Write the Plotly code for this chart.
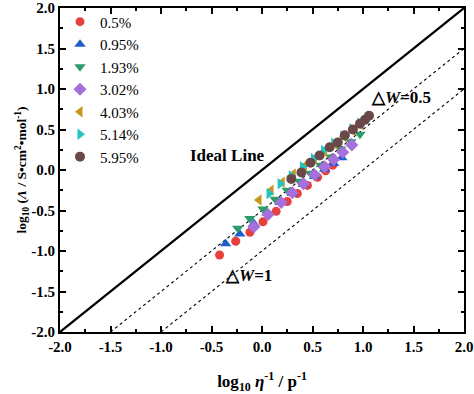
import plotly.graph_objects as go

# ---- data ----
series_names = ["0.5%", "0.95%", "1.93%", "3.02%", "4.03%", "5.14%", "5.95%"]

x_05 = [-0.42, -0.26, -0.12, 0.01, 0.14, 0.25, 0.35, 0.45, 0.55, 0.63, 0.70]
y_05 = [-1.05, -0.88, -0.77, -0.64, -0.51, -0.39, -0.29, -0.19, -0.09, -0.01, 0.06]

x_095 = [-0.36, -0.22, -0.08, 0.05, 0.18, 0.30, 0.41, 0.52, 0.62, 0.71, 0.79]
y_095 = [-0.91, -0.79, -0.66, -0.53, -0.40, -0.29, -0.18, -0.08, 0.01, 0.08, 0.15]

x_193 = [-0.24, -0.12, 0.01, 0.13, 0.25, 0.37, 0.48, 0.58, 0.68, 0.78, 0.88, 0.97]
y_193 = [-0.72, -0.60, -0.48, -0.36, -0.25, -0.14, -0.04, 0.06, 0.16, 0.26, 0.35, 0.44]

x_302 = [-0.08, 0.06, 0.19, 0.30, 0.41, 0.52, 0.62, 0.71, 0.80, 0.89]
y_302 = [-0.70, -0.55, -0.40, -0.28, -0.17, -0.06, 0.04, 0.13, 0.22, 0.31]

x_403 = [-0.03, 0.09, 0.20, 0.31, 0.42, 0.52, 0.62, 0.72, 0.81, 0.90, 0.98]
y_403 = [-0.37, -0.25, -0.15, -0.05, 0.05, 0.14, 0.23, 0.32, 0.41, 0.49, 0.56]

x_514 = [0.07, 0.18, 0.29, 0.40, 0.51, 0.61, 0.71, 0.80, 0.89, 0.97, 1.04]
y_514 = [-0.29, -0.17, -0.07, 0.04, 0.14, 0.24, 0.33, 0.42, 0.51, 0.58, 0.64]

x_595 = [0.29, 0.39, 0.48, 0.57, 0.67, 0.75, 0.82, 0.90, 0.97, 1.02, 1.06]
y_595 = [-0.11, -0.03, 0.09, 0.18, 0.28, 0.34, 0.43, 0.50, 0.57, 0.62, 0.67]

# reference lines y = x - offset
line_offsets = [0.0, 0.5, 1.0]
axis_range = [-2.0, 2.0]
tick_vals = [-2.0, -1.5, -1.0, -0.5, 0.0, 0.5, 1.0, 1.5, 2.0]
tick_text = ["-2.0", "-1.5", "-1.0", "-0.5", "0.0", "0.5", "1.0", "1.5", "2.0"]

# ---- styles ----
colors = ["#e8403f", "#1f5fcc", "#2e9b6b", "#a56fdc", "#c8961c", "#22c3c3", "#6b4848"]
symbols = ["circle", "triangle-up", "triangle-down", "diamond", "triangle-left", "triangle-right", "circle"]
sizes = [9, 10, 10, 10, 10, 10, 10]
xs = [x_05, x_095, x_193, x_302, x_403, x_514, x_595]
ys = [y_05, y_095, y_193, y_302, y_403, y_514, y_595]

FONT = "Liberation Serif, Times New Roman, serif"

fig = go.Figure()

# reference lines
for off in line_offsets:
    x0 = max(axis_range[0], axis_range[0] + off)
    x1 = axis_range[1]
    fig.add_trace(go.Scatter(
        x=[x0, x1], y=[x0 - off, x1 - off], mode="lines",
        line=dict(color="black", width=2.2 if off == 0 else 1.1,
                  dash="solid" if off == 0 else "dot"),
        showlegend=False, hoverinfo="skip"))

for name, x, y, c, s, sz in zip(series_names, xs, ys, colors, symbols, sizes):
    fig.add_trace(go.Scatter(
        x=x, y=y, mode="markers", name=name,
        marker=dict(color=c, symbol=s, size=sz, line=dict(width=0))))

axis_common = dict(
    range=axis_range, tickmode="array", tickvals=tick_vals, ticktext=tick_text,
    showgrid=False, zeroline=False, showline=True, linecolor="black", linewidth=2,
    mirror="allticks", ticks="inside", ticklen=6, tickwidth=2, tickcolor="black",
    ticklabeloverflow="allow",
    tickfont=dict(family=FONT, size=15, color="black", weight="bold"),
    minor=dict(ticks="inside", ticklen=3, tickwidth=1.5, tickcolor="black", dtick=0.25),
)

fig.update_xaxes(**axis_common,
                 title=dict(text="log<sub>10</sub> <i>η</i><sup>-1</sup> / p<sup>-1</sup>",
                            font=dict(family=FONT, size=17, color="black", weight="bold"),
                            standoff=23))
fig.update_yaxes(**axis_common,
                 title=dict(text="log<sub>10</sub> (<i>Λ</i> / S•cm<sup>2</sup>•mol<sup>-1</sup>)",
                            font=dict(family=FONT, size=13.5, color="black", weight="bold"),
                            standoff=0))

ann_font = dict(family=FONT, size=17, color="black", weight="bold")
fig.add_annotation(x=-0.34, y=0.18, text="Ideal Line", showarrow=False, font=ann_font)
fig.add_annotation(x=1.38, y=0.90, text="△<i>W</i>=0.5", showarrow=False, font=ann_font)
fig.add_annotation(x=-0.13, y=-1.30, text="△<i>W</i>=1", showarrow=False, font=ann_font)

fig.update_layout(
    width=474, height=394,
    margin=dict(l=60, r=10, t=8, b=62, autoexpand=False),
    plot_bgcolor="white", paper_bgcolor="white",
    font=dict(family=FONT, color="black"),
    legend=dict(x=0.0, y=1.008, xanchor="left", yanchor="top",
                bgcolor="rgba(0,0,0,0)", font=dict(family=FONT, size=15, color="black"),
                itemsizing="trace", tracegroupgap=0),
)

fig.write_html("out.html", config={"displayModeBar": False},
               post_script="document.body.style.margin='0';")
